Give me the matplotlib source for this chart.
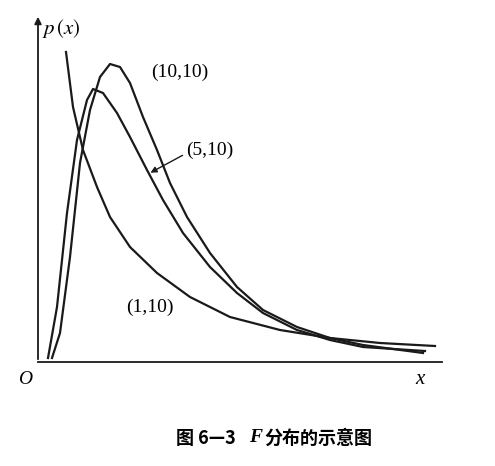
import matplotlib.pyplot as plt

plt.rcParams['font.family'] = ['Liberation Serif', 'Noto Sans CJK SC', 'DejaVu Sans']
plt.rcParams['mathtext.fontset'] = 'stix'

# curve points (arbitrary units: x right from origin, y up)
x_10_10 = [12, 20, 30, 40, 50, 60, 70, 80, 90, 103, 117, 130, 147, 170, 197, 223, 257, 290, 323, 383]
y_10_10 = [4, 29, 105, 199, 252, 285, 298, 295, 279, 245, 212, 179, 145, 109, 75, 52, 35, 24, 17, 9]

x_5_10 = [8, 17, 27, 37, 47, 53, 63, 77, 90, 107, 123, 143, 170, 197, 223, 257, 290, 323, 385]
y_5_10 = [4, 55, 149, 222, 262, 273, 269, 249, 225, 192, 162, 129, 95, 69, 49, 32, 22, 15, 11]

x_1_10 = [26, 33, 43, 57, 70, 90, 117, 150, 190, 240, 290, 340, 395]
y_1_10 = [310, 255, 212, 175, 145, 115, 89, 65, 45, 32, 24, 19, 16]

fig = plt.figure(figsize=(4.95, 4.66), dpi=100)
ax = fig.add_axes([0, 0, 1, 1])
ax.set_xlim(-40, 455)
ax.set_ylim(-104, 362)
ax.axis('off')

ax.plot(x_10_10, y_10_10, color='#1a1a1a', lw=1.6)
ax.plot(x_5_10, y_5_10, color='#1a1a1a', lw=1.6)
ax.plot(x_1_10, y_1_10, color='#1a1a1a', lw=1.6)

# axes
ax.plot([-2, 402], [0, 0], color='#1a1a1a', lw=1.3)
ax.annotate('', xy=(-2, 348), xytext=(-2, 0),
            arrowprops=dict(arrowstyle='-|>', color='#1a1a1a', lw=1.3, mutation_scale=10))

ax.text(2, 333, r'$p\,(x)$', fontsize=15, ha='left', va='center')
ax.text(-15, -18, 'O', fontsize=14, style='italic', ha='center', va='center')
ax.text(380, -18, 'x', fontsize=15, style='italic', ha='center', va='center')

ax.text(140, 290, '(10,10)', fontsize=14, ha='center', va='center')
ax.text(170, 212, '(5,10)', fontsize=14, ha='center', va='center')
ax.annotate('', xy=(108, 188), xytext=(145, 208),
            arrowprops=dict(arrowstyle='-|>', color='#1a1a1a', lw=1.0, mutation_scale=9))
ax.text(110, 55, '(1,10)', fontsize=14, ha='center', va='center')

ax.text(208, -76, '图 6—3   ', fontsize=13, fontweight='bold', ha='right', va='center',
        family=['Noto Sans CJK SC', 'DejaVu Sans'])
ax.text(209, -76, 'F', fontsize=14, fontweight='bold', style='italic', ha='left', va='center',
        family='Liberation Serif')
ax.text(224, -76, '分布的示意图', fontsize=13, fontweight='bold', ha='left', va='center',
        family=['Noto Sans CJK SC', 'DejaVu Sans'])

fig.savefig('out.png', dpi=100)
